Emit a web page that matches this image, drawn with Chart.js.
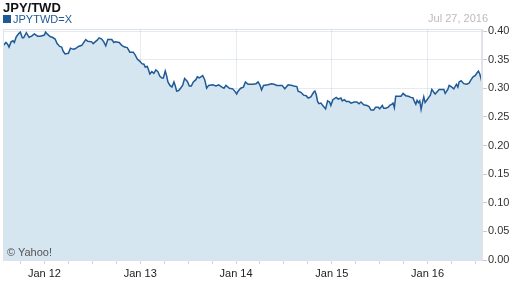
<!DOCTYPE html>
<html>
<head>
<meta charset="utf-8">
<script src="https://cdn.jsdelivr.net/npm/chart.js@4/dist/chart.umd.min.js"></script>
<style>
  html, body { margin: 0; padding: 0; background: #fff; }
  #wrap { position: relative; width: 512px; height: 288px; font-family: "Liberation Sans", Arial, sans-serif; }
  #title { position: absolute; left: 3px; top: 0px; font-size: 13px; font-weight: bold; color: #111; }
  #legend { position: absolute; left: 3px; top: 13px; font-size: 11px; color: #1f5a96; }
  #legend span { display: inline-block; width: 8px; height: 8px; background: #1f5a96; margin-right: 2px; vertical-align: 0px; }
  #date { position: absolute; right: 24px; top: 12px; font-size: 11px; color: #bbb; }
  #credit { position: absolute; left: 7px; top: 246px; font-size: 11px; color: #555; }
</style>
</head>
<body>
<div id="wrap">
  <canvas id="myChart" width="512" height="288"></canvas>
  <div id="title">JPY/TWD</div>
  <div id="legend"><span></span>JPYTWD=X</div>
  <div id="date">Jul 27, 2016</div>
  <div id="credit">© Yahoo!</div>
</div>
<script>
// decimal years, Jul 27 2011 .. Jul 27 2016
const years = [
  2011.573, 2011.598, 2011.615, 2011.630, 2011.651, 2011.671, 2011.685, 2011.706, 2011.734, 2011.748,
  2011.769, 2011.782, 2011.811, 2011.839, 2011.866, 2011.894, 2011.929, 2011.957, 2011.999, 2012.012,
  2012.033, 2012.062, 2012.083, 2012.111, 2012.132, 2012.159, 2012.180, 2012.194, 2012.215, 2012.250,
  2012.271, 2012.299, 2012.320, 2012.355, 2012.389, 2012.431, 2012.452, 2012.494, 2012.508, 2012.529,
  2012.550, 2012.571, 2012.598, 2012.619, 2012.640, 2012.661, 2012.703, 2012.724, 2012.738, 2012.780,
  2012.807, 2012.836, 2012.864, 2012.878, 2012.891, 2012.927, 2012.948, 2012.969, 2012.996, 2013.017,
  2013.038, 2013.052, 2013.073, 2013.087, 2013.100, 2013.121, 2013.142, 2013.163, 2013.184, 2013.205,
  2013.226, 2013.241, 2013.261, 2013.275, 2013.289, 2013.310, 2013.331, 2013.352, 2013.366, 2013.380,
  2013.401, 2013.421, 2013.442, 2013.463, 2013.492, 2013.512, 2013.533, 2013.554, 2013.581, 2013.596,
  2013.617, 2013.652, 2013.673, 2013.693, 2013.714, 2013.756, 2013.791, 2013.819, 2013.853, 2013.874,
  2013.895, 2013.931, 2013.965, 2013.986, 2014.007, 2014.021, 2014.049, 2014.077, 2014.098, 2014.126,
  2014.175, 2014.209, 2014.230, 2014.251, 2014.266, 2014.287, 2014.335, 2014.370, 2014.397, 2014.426,
  2014.481, 2014.509, 2014.544, 2014.586, 2014.600, 2014.635, 2014.648, 2014.677, 2014.705, 2014.732,
  2014.753, 2014.781, 2014.810, 2014.823, 2014.837, 2014.851, 2014.865, 2014.886, 2014.914, 2014.935,
  2014.956, 2014.977, 2014.990, 2015.011, 2015.046, 2015.067, 2015.095, 2015.109, 2015.130, 2015.151,
  2015.179, 2015.200, 2015.234, 2015.262, 2015.283, 2015.304, 2015.333, 2015.367, 2015.388, 2015.409,
  2015.437, 2015.458, 2015.485, 2015.500, 2015.527, 2015.542, 2015.563, 2015.590, 2015.604, 2015.625,
  2015.639, 2015.653, 2015.667, 2015.694, 2015.723, 2015.744, 2015.772, 2015.799, 2015.827, 2015.848,
  2015.862, 2015.877, 2015.890, 2015.904, 2015.918, 2015.932, 2015.946, 2015.960, 2015.974, 2015.995,
  2016.016, 2016.029, 2016.044, 2016.065, 2016.079, 2016.100, 2016.121, 2016.170, 2016.184, 2016.211,
  2016.225, 2016.253, 2016.274, 2016.301, 2016.316, 2016.329, 2016.350, 2016.378, 2016.406, 2016.433,
  2016.454, 2016.475, 2016.496, 2016.517, 2016.531, 2016.545, 2016.559, 2016.566
];

const rates = [
  0.375, 0.380, 0.377, 0.372, 0.381, 0.383, 0.380, 0.390, 0.396, 0.398,
  0.388, 0.388, 0.397, 0.389, 0.391, 0.395, 0.391, 0.391, 0.393, 0.398,
  0.394, 0.390, 0.389, 0.386, 0.378, 0.373, 0.372, 0.365, 0.360, 0.361,
  0.370, 0.368, 0.369, 0.373, 0.375, 0.385, 0.382, 0.381, 0.378, 0.381,
  0.384, 0.388, 0.386, 0.381, 0.374, 0.385, 0.385, 0.380, 0.381, 0.380,
  0.375, 0.372, 0.371, 0.367, 0.363, 0.363, 0.358, 0.351, 0.347, 0.343,
  0.342, 0.337, 0.338, 0.332, 0.325, 0.329, 0.326, 0.332, 0.329, 0.321,
  0.318, 0.318, 0.330, 0.322, 0.311, 0.305, 0.302, 0.311, 0.304, 0.295,
  0.296, 0.300, 0.305, 0.317, 0.312, 0.304, 0.304, 0.311, 0.315, 0.320,
  0.318, 0.322, 0.315, 0.300, 0.305, 0.306, 0.304, 0.306, 0.302, 0.300,
  0.305, 0.300, 0.299, 0.295, 0.290, 0.295, 0.300, 0.302, 0.311, 0.307,
  0.307, 0.308, 0.311, 0.305, 0.297, 0.305, 0.306, 0.308, 0.307, 0.305,
  0.305, 0.299, 0.306, 0.305, 0.304, 0.303, 0.295, 0.293, 0.288, 0.287,
  0.283, 0.285, 0.293, 0.295, 0.289, 0.277, 0.273, 0.274, 0.268, 0.264,
  0.278, 0.276, 0.270, 0.280, 0.284, 0.281, 0.283, 0.278, 0.280, 0.277,
  0.277, 0.274, 0.276, 0.276, 0.273, 0.276, 0.271, 0.270, 0.268, 0.262,
  0.262, 0.267, 0.267, 0.264, 0.270, 0.265, 0.265, 0.267, 0.270, 0.272,
  0.274, 0.266, 0.286, 0.286, 0.286, 0.291, 0.287, 0.286, 0.284, 0.283,
  0.277, 0.272, 0.279, 0.275, 0.278, 0.263, 0.275, 0.285, 0.275, 0.280,
  0.285, 0.288, 0.298, 0.293, 0.290, 0.294, 0.298, 0.298, 0.291, 0.298,
  0.305, 0.302, 0.299, 0.307, 0.302, 0.311, 0.313, 0.308, 0.307, 0.309,
  0.315, 0.320, 0.322, 0.327, 0.330, 0.325, 0.316, 0.311
];

const yTicks = [0, 0.05, 0.1, 0.15, 0.2, 0.25, 0.3, 0.35, 0.4];
const xTicks = [
  2011.75, 2012, 2012.25, 2012.5, 2012.75, 2013, 2013.25, 2013.5, 2013.75, 2014,
  2014.25, 2014.5, 2014.75, 2015, 2015.25, 2015.5, 2015.75, 2016, 2016.25, 2016.5
];

const frame = {
  id: "frame",
  afterDraw(chart) {
    const a = chart.chartArea;
    const c = chart.ctx;
    c.save();
    c.strokeStyle = "#dfe2e8";
    c.lineWidth = 1;
    c.strokeRect(a.left + 0.5, a.top + 0.5, a.right - a.left - 1, a.bottom - a.top);
    c.restore();
  },
};

const ctx = document.getElementById("myChart").getContext("2d");
const chart = new Chart(ctx, {
  type: "line",
  data: {
    datasets: [
      {
        label: "JPYTWD=X",
        data: years.map((x, i) => ({ x: x, y: rates[i] })),
        borderColor: "#1f5a96",
        borderWidth: 1.5,
        backgroundColor: "#d6e6f1",
        fill: "origin",
        pointRadius: 0,
        tension: 0,
      },
    ],
  },
  options: {
    responsive: false,
    animation: false,
    layout: { padding: { left: 3, top: 29, right: 0, bottom: 0 } },
    plugins: {
      legend: { display: false },
      tooltip: { enabled: false },
    },
    scales: {
      x: {
        type: "linear",
        min: 2011.567,
        max: 2016.568,
        afterBuildTicks: (s) => { s.ticks = xTicks.map((v) => ({ value: v })); },
        afterFit: (s) => { s.height = 28; },
        z: 1,
        grid: {
          color: (c) => (c.tick && Number.isInteger(c.tick.value) ? "rgba(100,130,170,0.16)" : "rgba(0,0,0,0)"),
          tickColor: "#d0d4da",
          tickLength: 4,
        },
        border: { color: "#dfe2e8" },
        ticks: {
          autoSkip: false,
          maxRotation: 0,
          padding: 3,
          color: "#222",
          font: { family: "Liberation Sans", size: 11 },
          callback: (v) => (Number.isInteger(v) ? "Jan " + String(v).slice(2) : ""),
        },
      },
      y: {
        position: "right",
        min: 0,
        max: 0.4035,
        afterBuildTicks: (s) => { s.ticks = yTicks.map((v) => ({ value: v })); },
        afterFit: (s) => { s.width = 30; },
        z: 1,
        grid: {
          color: "rgba(100,130,170,0.16)",
          tickColor: "#c8ccd2",
          tickLength: 5,
        },
        border: { color: "#dfe2e8" },
        ticks: {
          padding: 1,
          color: "#333",
          font: { family: "Liberation Sans", size: 11 },
          callback: (v) => v.toFixed(2),
        },
      },
    },
  },
  plugins: [frame],
});
</script>
</body>
</html>
